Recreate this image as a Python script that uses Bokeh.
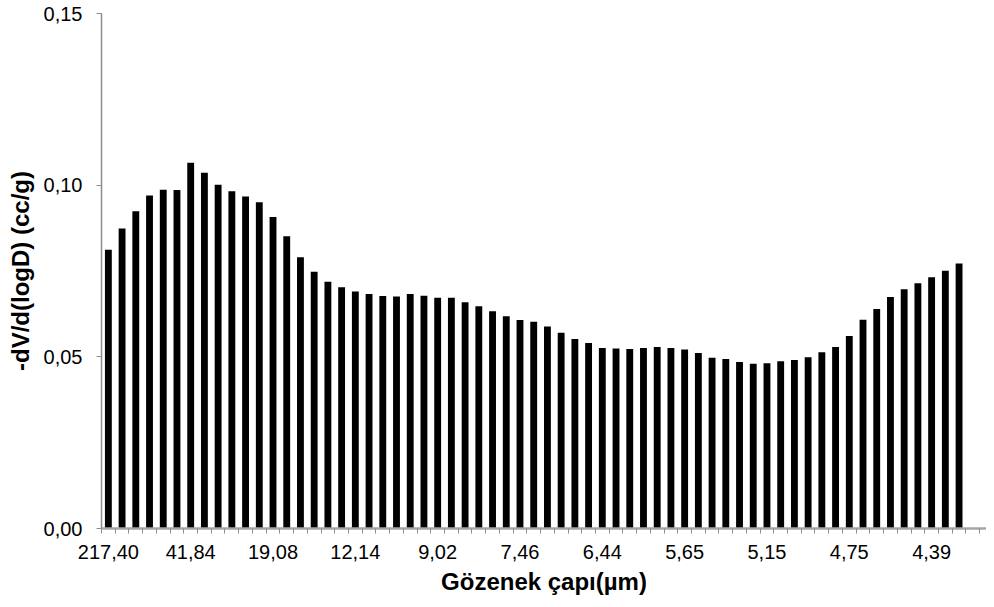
from bokeh.plotting import figure
from bokeh.models import FixedTicker, CustomJSTickFormatter, Range1d
from bokeh.embed import file_html
from bokeh.resources import INLINE

# Pore diameter label (shown every 6th category) and dV/d(logD) values
tick_labels = ["217,40", "41,84", "19,08", "12,14", "9,02", "7,46",
               "6,44", "5,65", "5,15", "4,75", "4,39"]
label_step = 6
values = [
    0.0812, 0.0874, 0.0924, 0.0970, 0.0987, 0.0986, 0.1065, 0.1036, 0.1001, 0.0982,
    0.0967, 0.0950, 0.0907, 0.0851, 0.0790, 0.0748, 0.0719, 0.0703, 0.0690, 0.0683,
    0.0677, 0.0676, 0.0683, 0.0678, 0.0672, 0.0672, 0.0659, 0.0647, 0.0633, 0.0618,
    0.0607, 0.0602, 0.0588, 0.0570, 0.0552, 0.0540, 0.0526, 0.0524, 0.0523, 0.0526,
    0.0529, 0.0526, 0.0521, 0.0511, 0.0497, 0.0494, 0.0485, 0.0480, 0.0481, 0.0487,
    0.0491, 0.0499, 0.0513, 0.0529, 0.0561, 0.0608, 0.0639, 0.0674, 0.0697, 0.0714,
    0.0732, 0.0751, 0.0772,
]
n_categories = 65
y_ticks = [0.0, 0.05, 0.10, 0.15]

FONT = "Liberation Sans"
AXIS_GRAY = "#8c8c8c"

idx = list(range(len(values)))

p = figure(width=986, height=599, output_backend="svg", toolbar_location=None,
           x_range=Range1d(-0.5, 64.0), y_range=Range1d(0, 0.15),
           min_border_left=101, min_border_right=0, min_border_top=13, min_border_bottom=71)
p.outline_line_color = None
p.grid.grid_line_color = None

p.vbar(x=idx, top=values, width=0.5, fill_color="black", line_color=None)

label_pos = [i * label_step for i in range(len(tick_labels))]
xa = p.xaxis[0]
xa.ticker = FixedTicker(ticks=label_pos,
                        minor_ticks=[i - 0.5 for i in range(n_categories + 1)])
xa.major_label_overrides = {pos: lab for pos, lab in zip(label_pos, tick_labels)}
xa.major_tick_line_color = None
xa.minor_tick_line_color = AXIS_GRAY
xa.minor_tick_in = 0
xa.minor_tick_out = 5
xa.axis_line_color = "#a6a6a6"
xa.axis_line_width = 2.5
xa.major_label_text_font = FONT
xa.major_label_text_font_size = "20px"
xa.major_label_text_color = "black"
xa.major_label_standoff = 10
xa.axis_label = "Gözenek çapı(µm)"
xa.axis_label_text_font = FONT
xa.axis_label_text_font_size = "24px"
xa.axis_label_text_font_style = "bold"
xa.axis_label_text_color = "black"
xa.axis_label_standoff = 6

ya = p.yaxis[0]
ya.ticker = FixedTicker(ticks=y_ticks, minor_ticks=[])
ya.formatter = CustomJSTickFormatter(code="return tick.toFixed(2).replace('.', ',');")
ya.major_tick_line_color = AXIS_GRAY
ya.major_tick_in = 0
ya.major_tick_out = 5
ya.axis_line_color = AXIS_GRAY
ya.axis_line_width = 1.5
ya.major_label_text_font = FONT
ya.major_label_text_font_size = "20px"
ya.major_label_text_color = "black"
ya.major_label_standoff = 14
ya.axis_label = "-dV/d(logD) (cc/g)"
ya.axis_label_text_font = FONT
ya.axis_label_text_font_size = "24px"
ya.axis_label_text_font_style = "bold"
ya.axis_label_text_color = "black"
ya.axis_label_standoff = 7

open("out.html", "w").write(file_html(p, INLINE))
